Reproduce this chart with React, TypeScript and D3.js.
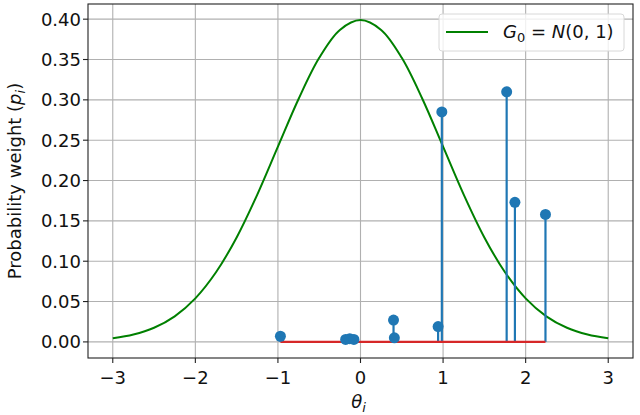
import React, { useEffect, useRef } from 'react';
import * as d3 from 'd3';

// Atoms of the random measure (stem plot)
const thetas = [-0.97, -0.18, -0.13, -0.08, 0.40, 0.41, 0.94, 0.985, 1.77, 1.87, 2.24];
const weights = [0.007, 0.003, 0.004, 0.003, 0.027, 0.005, 0.019, 0.285, 0.31, 0.173, 0.158];

// Base measure density
const curveX = [-3, -2.75, -2.5, -2.25, -2, -1.75, -1.5, -1.25, -1, -0.75, -0.5, -0.25, 0,
  0.25, 0.5, 0.75, 1, 1.25, 1.5, 1.75, 2, 2.25, 2.5, 2.75, 3];
const curveY = [0.0044, 0.0091, 0.0175, 0.0317, 0.054, 0.0863, 0.1295, 0.1826, 0.242, 0.3011, 0.3521, 0.3867, 0.3989,
  0.3867, 0.3521, 0.3011, 0.242, 0.1826, 0.1295, 0.0863, 0.054, 0.0317, 0.0175, 0.0091, 0.0044];

const xTicks = [-3, -2, -1, 0, 1, 2, 3];
const yTicks = [0, 0.05, 0.1, 0.15, 0.2, 0.25, 0.3, 0.35, 0.4];

const App: React.FC = () => {
  const svgRef = useRef<SVGSVGElement>(null);

  useEffect(() => {
    document.body.style.margin = '0';
    if (!svgRef.current) return;
    const svg = d3.select(svgRef.current);
    svg.selectAll('*').remove();

    const W = 640, H = 415;
    const margin = { top: 4, right: 7, bottom: 57, left: 88 };
    const width = W - margin.left - margin.right;
    const height = H - margin.top - margin.bottom;
    const font = "'DejaVu Sans', sans-serif";
    const fs = 18;

    const x = d3.scaleLinear().domain([-3.3, 3.3]).range([0, width]);
    const y = d3.scaleLinear().domain([-0.01995, 0.4188]).range([height, 0]);

    const g = svg.append('g').attr('transform', `translate(${margin.left},${margin.top})`);

    // grid
    g.selectAll('line.gx').data(xTicks).enter().append('line')
      .attr('x1', d => x(d)).attr('x2', d => x(d)).attr('y1', 0).attr('y2', height)
      .attr('stroke', '#b0b0b0').attr('stroke-width', 1.1);
    g.selectAll('line.gy').data(yTicks).enter().append('line')
      .attr('y1', d => y(d)).attr('y2', d => y(d)).attr('x1', 0).attr('x2', width)
      .attr('stroke', '#b0b0b0').attr('stroke-width', 1.1);

    // normal curve
    const line = d3.line<number>()
      .x((_, i) => x(curveX[i]))
      .y(d => y(d))
      .curve(d3.curveCatmullRom);
    g.append('path').datum(curveY).attr('d', line)
      .attr('fill', 'none').attr('stroke', '#008000').attr('stroke-width', 2);

    // stems
    g.selectAll('line.stem').data(thetas).enter().append('line')
      .attr('x1', d => x(d)).attr('x2', d => x(d))
      .attr('y1', y(0)).attr('y2', (_, i) => y(weights[i]))
      .attr('stroke', '#1f77b4').attr('stroke-width', 2.2);

    // baseline
    g.append('line')
      .attr('x1', x(d3.min(thetas)!)).attr('x2', x(d3.max(thetas)!))
      .attr('y1', y(0)).attr('y2', y(0))
      .attr('stroke', '#d62728').attr('stroke-width', 2.2);

    // markers
    g.selectAll('circle.mk').data(thetas).enter().append('circle')
      .attr('cx', d => x(d)).attr('cy', (_, i) => y(weights[i]))
      .attr('r', 5.5).attr('fill', '#1f77b4');

    // spines
    g.append('rect').attr('width', width).attr('height', height)
      .attr('fill', 'none').attr('stroke', '#222').attr('stroke-width', 1.1);

    // x axis
    const xa = g.append('g').attr('transform', `translate(0,${height})`);
    xTicks.forEach(t => {
      xa.append('line').attr('x1', x(t)).attr('x2', x(t)).attr('y1', 0).attr('y2', 5)
        .attr('stroke', '#222').attr('stroke-width', 1.1);
      xa.append('text').attr('x', x(t)).attr('y', 26)
        .attr('text-anchor', 'middle').attr('font-family', font).attr('font-size', fs)
        .attr('fill', '#111').text(t < 0 ? `\u2212${Math.abs(t)}` : `${t}`);
    });

    // y axis
    yTicks.forEach(t => {
      g.append('line').attr('x1', -5).attr('x2', 0).attr('y1', y(t)).attr('y2', y(t))
        .attr('stroke', '#222').attr('stroke-width', 1.1);
      g.append('text').attr('x', -7).attr('y', y(t)).attr('dy', '0.36em')
        .attr('text-anchor', 'end').attr('font-family', font).attr('font-size', fs)
        .attr('fill', '#111').text(d3.format('.2f')(t));
    });

    // axis labels
    const xl = svg.append('text').attr('x', margin.left + width / 2 - 2).attr('y', 408)
      .attr('text-anchor', 'middle').attr('font-family', font).attr('font-size', fs).attr('fill', '#111');
    xl.append('tspan').attr('font-style', 'italic').text('\u03b8');
    xl.append('tspan').attr('font-style', 'italic').attr('font-size', 13).attr('dy', 4).text('i');

    const yl = svg.append('text')
      .attr('transform', `translate(21,${margin.top + height / 2}) rotate(-90)`)
      .attr('text-anchor', 'middle').attr('font-family', font).attr('font-size', fs).attr('fill', '#111');
    yl.append('tspan').text('Probability weight (');
    yl.append('tspan').attr('font-style', 'italic').text('p');
    yl.append('tspan').attr('font-style', 'italic').attr('font-size', 13).attr('dy', 4).text('i');
    yl.append('tspan').attr('dy', -4).text(')');

    // legend
    const lg = svg.append('g');
    lg.append('rect').attr('x', 439).attr('y', 14).attr('width', 185).attr('height', 37)
      .attr('rx', 3).attr('fill', 'rgba(255,255,255,0.8)').attr('stroke', '#d8d8d8').attr('stroke-width', 1);
    lg.append('line').attr('x1', 446).attr('x2', 488).attr('y1', 32).attr('y2', 32)
      .attr('stroke', '#008000').attr('stroke-width', 2);
    const lt = lg.append('text').attr('x', 503).attr('y', 38)
      .attr('font-family', font).attr('font-size', fs).attr('fill', '#111');
    lt.append('tspan').attr('font-style', 'italic').text('G');
    lt.append('tspan').attr('font-size', 13).attr('dy', 4).text('0');
    lt.append('tspan').attr('dy', -4).text(' = ');
    lt.append('tspan').attr('font-style', 'italic').text('N');
    lt.append('tspan').text('(0, 1)');
  }, []);

  return <svg ref={svgRef} width={640} height={415} style={{ display: 'block', background: '#fff' }} />;
};

export default App;
